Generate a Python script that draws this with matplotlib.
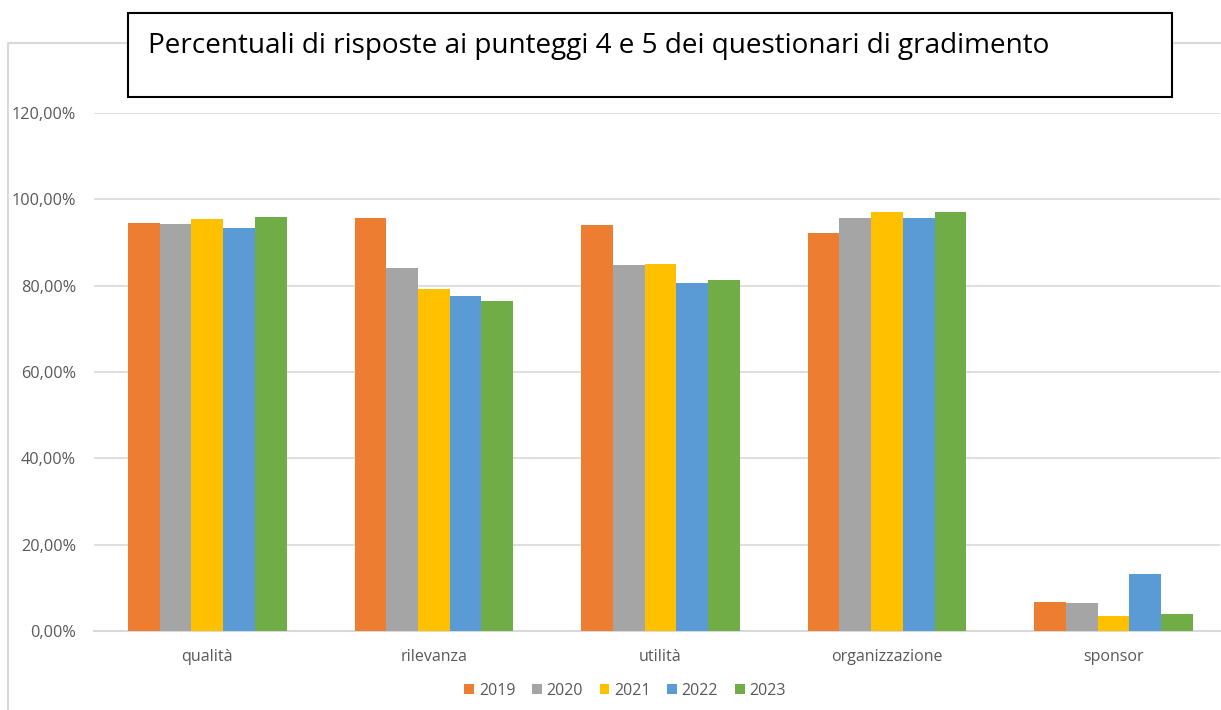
import matplotlib.pyplot as plt
from matplotlib.patches import Rectangle
from matplotlib.lines import Line2D
import numpy as np

categories = ['qualità', 'rilevanza', 'utilità', 'organizzazione', 'sponsor']
years = ['2019', '2020', '2021', '2022', '2023']
values = {
  '2019': [94.6, 95.6, 94.1, 92.1, 6.7],
  '2020': [94.4, 84.0, 84.8, 95.6, 6.4],
  '2021': [95.4, 79.3, 85.0, 97.0, 3.4],
  '2022': [93.4, 77.7, 80.7, 95.6, 13.1],
  '2023': [95.8, 76.5, 81.2, 97.0, 3.9],
}
colors = ['#ED7D31', '#A5A5A5', '#FFC000', '#5B9BD5', '#70AD47']
yticks = [0, 20, 40, 60, 80, 100, 120]
ytick_labels = ['0,00%', '20,00%', '40,00%', '60,00%', '80,00%', '100,00%', '120,00%']
title = 'Percentuali di risposte ai punteggi 4 e 5 dei questionari di gradimento'

plt.rcParams['font.family'] = ['Open Sans', 'DejaVu Sans']

fig = plt.figure(figsize=(12.21, 7.10), dpi=100)
ax = fig.add_axes([94/1221, 79/710, 1126/1221, 518/710])

x = np.arange(len(categories))
w = 0.14
for i, y in enumerate(years):
  ax.bar(x + (i - 2) * w, values[y], w, color=colors[i], label=y, zorder=3)

# plot area is cut off a little on the right in the original
ax.set_xlim(-0.5, len(categories) - 0.5 - 0.03)
ax.set_ylim(0, 120)
ax.set_yticks(yticks)
ax.set_yticklabels(ytick_labels)
ax.set_xticks(x)
ax.set_xticklabels(categories)
ax.grid(axis='y', color='#D9D9D9', lw=1.2, zorder=0)
for s in ['top', 'right', 'left']:
  ax.spines[s].set_visible(False)
ax.spines['bottom'].set_color('#D9D9D9')
ax.spines['bottom'].set_linewidth(1.5)
ax.tick_params(axis='both', length=0, colors='#595959')
ax.tick_params(axis='y', pad=13, labelsize=11.7)
ax.tick_params(axis='x', pad=13, labelsize=11.5)

fig.legend(loc='center', bbox_to_anchor=(0.512, 0.027), ncol=5, frameon=False,
           handlelength=0.6, handleheight=0.6, handletextpad=0.3, columnspacing=1.05,
           fontsize=11.5, labelcolor='#595959')

# outer chart frame
x0 = 8/1221
top = 1 - 43/710
fig.add_artist(Line2D([1.0, x0, x0], [top, top, 0], transform=fig.transFigure,
                      color='#D9D9D9', lw=1.5))

# title box
fig.add_artist(Rectangle((128/1221, 1 - 97/710), 1044/1221, 84/710, transform=fig.transFigure,
                         facecolor='white', edgecolor='black', lw=1.5, zorder=5))
fig.text(148/1221, 1 - 46/710, title, fontsize=20.1, ha='left', va='center', color='black', zorder=6)

fig.savefig('out.png', dpi=100)
